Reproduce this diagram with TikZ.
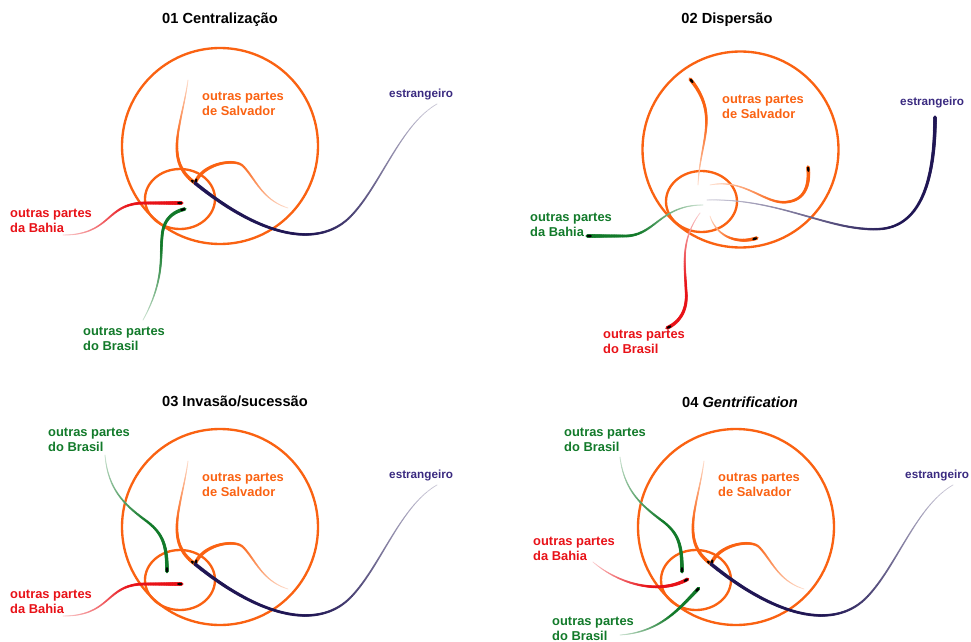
\documentclass[tikz,border=0pt]{standalone}
\usepackage{fontspec}
\setmainfont{Liberation Sans}
\usepackage{tikz}
\usetikzlibrary{decorations.markings,fadings}

\definecolor{salv}{RGB}{250,98,18}
\definecolor{bahia}{RGB}{232,18,24}
\definecolor{brasil}{RGB}{18,122,42}
\definecolor{navy}{RGB}{32,22,84}
\definecolor{estr}{RGB}{58,42,128}

\begin{document}
\begin{tikzpicture}[x=0.03cm,y=-0.03cm,
	ring/.style={draw=salv,line width=2pt},
	lbl/.style={anchor=west,align=left,inner sep=0pt,font=\fontsize{11}{12.5}\selectfont\bfseries},
	ttl/.style={inner sep=0pt,font=\fontsize{12.5}{14}\selectfont\bfseries},
	flow/.style={decoration={markings,
		mark=between positions 0 and 1 step 0.5pt with {
			\pgfmathsetmacro\flowt{\pgfkeysvalueof{/pgf/decoration/mark info/distance from start}/\pgfdecoratedpathlength}
			\pgfmathsetmacro\flowp{min(100,22+130*\flowt)}
			\fill[#1!\flowp!white] (0,0) circle ({0.4pt+1.25pt*\flowt});},
		mark=at position -0.3pt with {\fill[black] (-1.6pt,0) ellipse (2.2pt and 1.1pt);}},
		postaction=decorate}]
				\useasboundingbox (0,0) rectangle (971,642);
				\foreach \p/\dx/\dy in {1/0/0, 3/0/381, 4/516/381}{
				\begin{scope}[shift={(\dx,\dy)}]
				\draw[ring] (220,146) circle (98);
				\draw[ring] (180,199) ellipse (35 and 30);
				\node[lbl,text=salv] (sal\p) at (202,104) {outras partes\\de Salvador};
				\node[lbl,text=estr,font=\fontsize{10}{12}\selectfont\bfseries] (est\p) at (389,94) {estrangeiro};
				\coordinate (hub\p) at (195,183);
				\coordinate (top\p) at (188,80);
				\coordinate (arc\p) at (288,208);
				\coordinate (nav\p) at (437,104);
				\path[flow=salv] (top\p) .. controls (182,125) and (163,160) .. (hub\p);
				\path[flow=salv] (arc\p) .. controls (262,200) and (255,178) .. (243,166) .. controls (235,158) and (203,163) .. (hub\p);
				\path[flow=navy] (nav\p) .. controls (400,125) and (380,187) .. (350,217) .. controls (320,247) and (265,240) .. (hub\p);
				\end{scope}
				}
				\node[ttl] (t1) at (220,20) {01 Centralização};
				\node[lbl,text=bahia] (bah1) at (10,221) {outras partes\\da Bahia};
				\node[lbl,text=brasil] (bra1) at (83,339) {outras partes\\do Brasil};
				\coordinate (bs1) at (63,235);
				\coordinate (be1) at (182,203);
				\coordinate (gs1) at (143,320);
				\coordinate (ge1) at (185,209);
				\path[flow=bahia] (bs1) .. controls (112,235) and (105,203) .. (145,203) -- (be1);
				\path[flow=brasil] (gs1) .. controls (165,280) and (160,255) .. (162,237) .. controls (163,220) and (172,212) .. (ge1);
				\node[ttl] (t2) at (727,20) {02 Dispersão};
				\draw[ring] (740.5,149.5) circle (98);
				\draw[ring] (701.5,201.5) ellipse (35.5 and 30.5);
				\fill[white,path fading=circle with fuzzy edge 15 percent] (703,200) circle (16);
				\node[lbl,text=salv] (sal2) at (722,107) {outras partes\\de Salvador};
				\node[lbl,text=estr,font=\fontsize{10}{12}\selectfont\bfseries] (est2) at (900,102) {estrangeiro};
				\node[lbl,text=brasil] (bah2) at (530,225) {outras partes\\da Bahia};
				\node[lbl,text=bahia] (bra2) at (603,342) {outras partes\\do Brasil};
				\coordinate (us2) at (698,185);
				\coordinate (rs2) at (710,185);
				\coordinate (ds2) at (710,216);
				\coordinate (ns2) at (707,200);
				\coordinate (gs2) at (703,205);
				\coordinate (bs2) at (700,213);
				\coordinate (up2) at (690,79);
				\coordinate (rt2) at (808,167);
				\coordinate (dn2) at (757,238);
				\coordinate (nav2) at (935,117);
				\coordinate (ge2) at (587,236);
				\coordinate (re2) at (667,328);
				\path[flow=salv] (us2) .. controls (700,140) and (720,115) .. (up2);
				\path[flow=salv] (rs2) .. controls (745,178) and (765,205) .. (787,202) .. controls (805,200) and (810,185) .. (rt2);
				\path[flow=salv] (ds2) .. controls (716,235) and (735,245) .. (dn2);
				\path[flow=navy] (ns2) .. controls (780,198) and (830,232) .. (880,229) .. controls (925,226) and (935,170) .. (nav2);
				\path[flow=brasil] (gs2) .. controls (660,205) and (655,236) .. (625,236) -- (ge2);
				\path[flow=bahia] (bs2) .. controls (680,240) and (685,265) .. (686,290) .. controls (688,310) and (680,322) .. (re2);
				\begin{scope}[shift={(0,381)}]
				\node[ttl] (t3) at (235,20) {03 Invasão/sucessão};
				\node[lbl,text=bahia] (bah3) at (10,221) {outras partes\\da Bahia};
				\node[lbl,text=brasil] (bra3) at (48,59) {outras partes\\do Brasil};
				\coordinate (bs3) at (63,235);
				\coordinate (be3) at (182,203);
				\coordinate (gs3) at (105,74);
				\coordinate (ge3) at (167,191);
				\path[flow=bahia] (bs3) .. controls (112,235) and (105,203) .. (145,203) -- (be3);
				\path[flow=brasil] (gs3) .. controls (108,109) and (125,124) .. (145,139) .. controls (163,152) and (167,164) .. (ge3);
				\end{scope}
				\begin{scope}[shift={(516,381)}]
				\node[ttl] (t4) at (224,21) {04 \textit{Gentrification}};
				\node[lbl,text=bahia] (bah4) at (17,168) {outras partes\\da Bahia};
				\node[lbl,text=brasil] (bra4) at (48,59) {outras partes\\do Brasil};
				\node[lbl,text=brasil] (brb4) at (36,248) {outras partes\\do Brasil};
				\coordinate (bs4) at (77,181);
				\coordinate (be4) at (172,198);
				\coordinate (gs4) at (104,76);
				\coordinate (ge4) at (166,191);
				\coordinate (hs4) at (104,254);
				\coordinate (he4) at (183,207);
				\path[flow=bahia] (bs4) .. controls (104,204) and (144,214) .. (be4);
				\path[flow=brasil] (gs4) .. controls (108,109) and (125,124) .. (145,139) .. controls (163,152) and (166,164) .. (ge4);
				\path[flow=brasil] (hs4) .. controls (144,251) and (162,229) .. (he4);
				\end{scope}
				\end{tikzpicture}
\end{document}
